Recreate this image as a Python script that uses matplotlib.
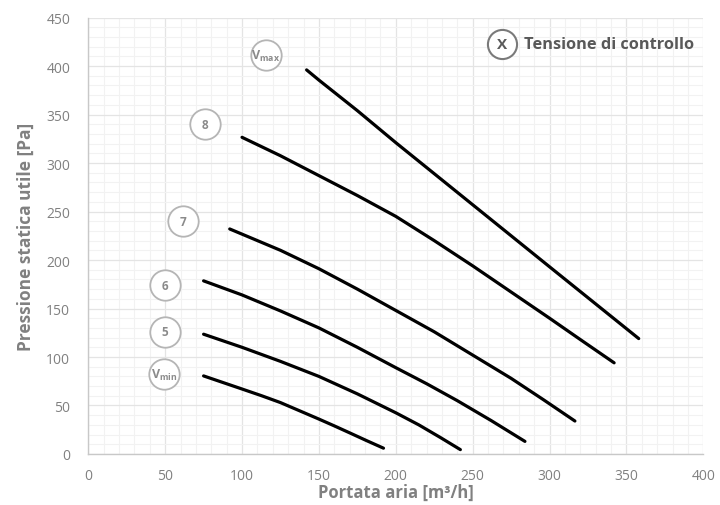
import matplotlib
matplotlib.use("Agg")
import matplotlib.pyplot as plt
from matplotlib.ticker import MultipleLocator

plt.rcParams["font.family"] = ["Open Sans", "DejaVu Sans"]
plt.rcParams["mathtext.fontset"] = "custom"
plt.rcParams["mathtext.rm"] = "Open Sans"
plt.rcParams["mathtext.bf"] = "Open Sans:bold"

# fan curves: airflow [m3/h] vs available static pressure [Pa]
vmax_x = [142, 150, 175, 200, 250, 300, 358]
vmax_y = [396, 385.5, 354, 321, 257, 193, 119]
v8_x = [100, 125, 150, 175, 200, 225, 250, 275, 300, 320, 342]
v8_y = [326.5, 307.5, 287, 266.5, 245, 220, 194, 167, 140, 118, 94]
v7_x = [92, 125, 150, 175, 200, 225, 250, 275, 296, 316.5]
v7_y = [232, 210, 191, 170, 148, 126, 102, 78, 56, 34]
v6_x = [75, 100, 125, 150, 175, 200, 220, 240, 262, 284]
v6_y = [178.5, 164, 147.5, 130, 110, 89, 72.5, 55, 34.5, 13]
v5_x = [75, 100, 125, 150, 175, 200, 215, 229, 242]
v5_y = [123.5, 110, 95.5, 80, 62, 42.5, 30, 17, 4.5]
vmin_x = [75, 100, 112.5, 125, 137.5, 150, 160, 170, 181, 192]
vmin_y = [80.5, 67, 60.2, 53, 44.5, 36, 29, 21.8, 13.8, 6]

curves = [(vmax_x, vmax_y), (v8_x, v8_y), (v7_x, v7_y),
          (v6_x, v6_y), (v5_x, v5_y), (vmin_x, vmin_y)]

# control-voltage badges next to each curve
badge_labels = [r"$\mathbf{V}_{\mathbf{max}}$", "8", "7", "6", "5", r"$\mathbf{V}_{\mathbf{min}}$"]
badge_x = [115.6, 76, 61.6, 50, 50, 49.5]
badge_y = [411, 340, 240, 174, 126, 82]

GRAY_TXT = "#808080"

fig = plt.figure(figsize=(7.2, 5.06), dpi=100)
ax = fig.add_axes([0.1226, 0.1008, 0.8542, 0.8626])

for xs, ys in curves:
    ax.plot(xs, ys, color="black", lw=2.3, solid_capstyle="round",
            solid_joinstyle="round", zorder=3)

ax.scatter(badge_x, badge_y, s=480, facecolors="white", edgecolors="#b5b5b5",
           linewidths=1.3, zorder=4)
for lab, bx, by in zip(badge_labels, badge_x, badge_y):
    fs = 9 if lab.startswith("$") else 8.5
    ax.text(bx, by, lab, ha="center", va="center", fontsize=fs,
            fontweight="bold", color="#8a8a8a", zorder=5)

ax.set_xlim(0, 400)
ax.set_ylim(0, 450)
ax.xaxis.set_major_locator(MultipleLocator(50))
ax.yaxis.set_major_locator(MultipleLocator(50))
ax.xaxis.set_minor_locator(MultipleLocator(10))
ax.yaxis.set_minor_locator(MultipleLocator(10))
ax.grid(which="major", color="#e4e4e4", lw=0.9, zorder=0)
ax.grid(which="minor", color="#f2f2f2", lw=0.8, zorder=0)
ax.set_axisbelow(True)
ax.tick_params(which="both", length=0, labelsize=10, labelcolor=GRAY_TXT)
ax.tick_params(axis="x", pad=10)
ax.tick_params(axis="y", pad=13)

for side in ("top", "right"):
    ax.spines[side].set_visible(False)
for side in ("left", "bottom"):
    ax.spines[side].set_color("#c8c8c8")
    ax.spines[side].set_linewidth(1.0)

ax.set_xlabel("Portata aria [m³/h]", fontsize=12, fontweight="bold",
              color=GRAY_TXT, labelpad=0)
ax.set_ylabel("Pressione statica utile [Pa]", fontsize=12.5, fontweight="bold",
              color=GRAY_TXT, labelpad=8)

# legend key in the top right corner
ax.scatter([269], [423], s=440, facecolors="white", edgecolors="#7a7a7a",
           linewidths=1.5, zorder=4, clip_on=False)
ax.text(269, 422.5, "X", ha="center", va="center", fontsize=11,
        fontweight="bold", color="#5a5a5a", zorder=5)
ax.text(283.5, 423, "Tensione di controllo", ha="left", va="center",
        fontsize=11.8, fontweight="bold", color="#595959", zorder=5)

fig.savefig("out.png", dpi=100)
